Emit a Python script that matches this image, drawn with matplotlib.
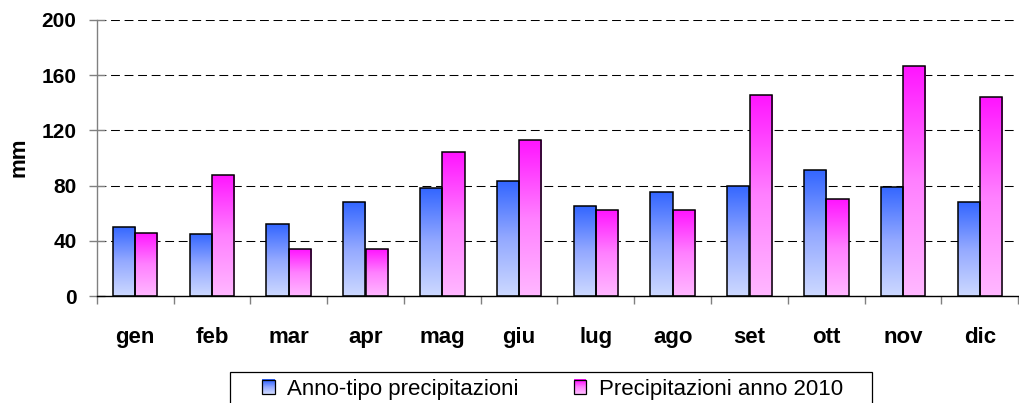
import numpy as np
import matplotlib
matplotlib.use("Agg")
import matplotlib.pyplot as plt
from matplotlib.colors import LinearSegmentedColormap
from matplotlib.patches import Rectangle
from matplotlib.legend_handler import HandlerBase

plt.rcParams['font.family'] = ['Liberation Sans', 'DejaVu Sans']

# -----------------------------------------------------------------------------
# Data (mm di pioggia per mese)
# -----------------------------------------------------------------------------
months = ['gen', 'feb', 'mar', 'apr', 'mag', 'giu', 'lug', 'ago', 'set', 'ott', 'nov', 'dic']
anno_tipo = [50, 45, 52, 68, 78, 83, 65, 75, 80, 91, 79, 68]
anno_2010 = [46, 88, 34, 34, 104, 113, 62, 62, 146, 70, 167, 144]
series_labels = ['Anno-tipo precipitazioni', 'Precipitazioni anno 2010']
y_ticks = [0, 40, 80, 120, 160, 200]

# light (bottom) -> dark (top) gradients
cmap_blue = LinearSegmentedColormap.from_list('blu', ['#cdd9ff', '#94a9ff', '#3366ff'])
cmap_pink = LinearSegmentedColormap.from_list('rosa', ['#ffb8ff', '#ff80ff', '#ff14ff'])


def gradient_bars(ax, x, heights, width, cmap):
    """Bars filled with a vertical gradient, black outline on top."""
    bars = ax.bar(x, heights, width, color='none', edgecolor='black', linewidth=1.1, zorder=3)
    grad = np.linspace(0, 1, 256).reshape(-1, 1)
    for bar in bars:
        x0, y0 = bar.get_x(), bar.get_y()
        w, h = bar.get_width(), bar.get_height()
        im = ax.imshow(grad, extent=(x0, x0 + w, y0, y0 + h), origin='lower',
                       cmap=cmap, aspect='auto', zorder=2.5, interpolation='bilinear')
        im.set_clip_path(bar)
    return bars


class GradientHandler(HandlerBase):
    """Small gradient square for the legend."""
    def __init__(self, cmap):
        super().__init__()
        self.cmap = cmap

    def create_artists(self, legend, orig_handle, xdescent, ydescent, width, height, fontsize, trans):
        n = 14
        arts = []
        for i in range(n):
            arts.append(Rectangle((-xdescent, -ydescent + height * i / n), width, height / n + 0.2,
                                  facecolor=self.cmap(i / (n - 1)), edgecolor='none', transform=trans))
        arts.append(Rectangle((-xdescent, -ydescent), width, height, facecolor='none',
                              edgecolor='black', linewidth=0.9, transform=trans))
        return arts


fig = plt.figure(figsize=(10.19, 4.03), dpi=100)
ax = fig.add_axes([0.0949, 0.2655, 0.9044, 0.6849])

x = np.arange(len(months))
w = 0.29
gradient_bars(ax, x - 0.146, anno_tipo, w, cmap_blue)
gradient_bars(ax, x + 0.146, anno_2010, w, cmap_pink)

ax.set_xlim(-0.5, len(months) - 0.5)
ax.set_ylim(0, 200)

# grid
ax.set_yticks(y_ticks)
ax.yaxis.grid(True, color='black', linestyle=(0, (8.5, 4.5)), linewidth=0.75)
ax.set_axisbelow(True)

# spines
ax.spines['top'].set_visible(False)
ax.spines['right'].set_visible(False)
ax.spines['left'].set_color('#808080')
ax.spines['left'].set_linewidth(1.0)
ax.spines['bottom'].set_color('black')
ax.spines['bottom'].set_linewidth(1.0)

# x axis: ticks at boundaries, labels at centres
ax.set_xticks(np.arange(-0.5, len(months), 1))
ax.set_xticklabels([])
ax.set_xticks(x, minor=True)
ax.set_xticklabels(months, minor=True, fontsize=16, fontweight='bold')
ax.tick_params(axis='x', which='major', direction='out', length=6, width=1, color='#808080')
ax.tick_params(axis='x', which='minor', length=0, pad=22)

# y axis
ax.set_yticklabels([str(v) for v in y_ticks], fontsize=15, fontweight='bold')
ax.tick_params(axis='y', direction='inout', length=11, width=1, color='#808080', pad=9)

fig.text(19 / 1019, 1 - 157 / 403, 'mm', rotation=90, ha='center', va='center',
         fontsize=16, fontweight='bold')

# legend
h_blue = Rectangle((0, 0), 1, 1)
h_pink = Rectangle((0, 0), 1, 1)
fig.legend([h_blue, h_pink], series_labels, ncol=2, loc='center',
           bbox_to_anchor=(552.5 / 1019, 14 / 403), frameon=False, fontsize=16,
           handlelength=0.56, handleheight=0.6, handletextpad=0.55, columnspacing=2.5,
           borderpad=0, handler_map={h_blue: GradientHandler(cmap_blue),
                                     h_pink: GradientHandler(cmap_pink)})
fig.patches.append(Rectangle((230 / 1019, -0.05), 642 / 1019, 0.05 + 31 / 403,
                             transform=fig.transFigure, facecolor='none',
                             edgecolor='black', linewidth=0.9, clip_on=False))

fig.savefig('out.png', dpi=100)
